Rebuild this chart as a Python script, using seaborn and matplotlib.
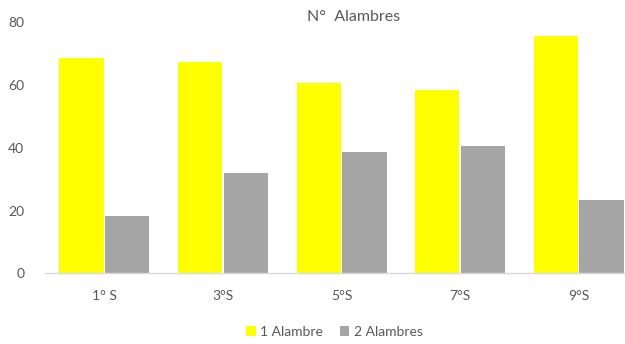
import pandas as pd
import numpy as np
import matplotlib
matplotlib.use("Agg")
import matplotlib.pyplot as plt
import seaborn as sns

secciones = ["1° S", "3°S", "5°S", "7°S", "9°S"]
un_alambre = [68.7, 67.4, 60.6, 58.4, 75.5]
dos_alambres = [18.3, 31.9, 38.8, 40.5, 23.5]
series = ["1 Alambre", "2 Alambres"]
colores = ["#FFFF00", "#A5A5A5"]
yticks = [0, 20, 40, 60, 80]

data = pd.DataFrame({
    "Seccion": secciones * 2,
    "Serie": [series[0]] * 5 + [series[1]] * 5,
    "Valor": un_alambre + dos_alambres,
})

sns.set_style("white")
plt.rcParams["font.family"] = ["Lato", "DejaVu Sans"]

fig = plt.figure(figsize=(6.25, 3.44), dpi=100)
ax = fig.add_axes([0.072, 0.205, 0.928, 0.731])

sns.barplot(data=data, x="Seccion", y="Valor", hue="Serie", palette=colores,
            width=0.77, gap=0.03, ax=ax, legend=True, saturation=1,
            linewidth=0)

ax.set_xlim(-0.5, 4.39)
ax.set_ylim(0, 80)
ax.set_yticks(yticks)
ax.set_xlabel("")
ax.set_ylabel("")
for s in ["top", "right", "left"]:
    ax.spines[s].set_visible(False)
ax.spines["bottom"].set_color("#D9D9D9")
ax.spines["bottom"].set_linewidth(1)
ax.tick_params(axis="y", length=0, pad=15, labelsize=10, labelcolor="#595959")
ax.tick_params(axis="x", length=0, pad=12, labelsize=10, labelcolor="#595959")

fig.text(0.566, 0.95, "N°  Alambres", ha="center", va="center",
         fontsize=11.5, color="#595959")

handles, labels = ax.get_legend_handles_labels()
ax.legend_.remove()
fig.legend(handles, labels, loc="center", bbox_to_anchor=(0.535, 0.035),
           ncol=2, frameon=False, fontsize=10, handlelength=0.7,
           handleheight=0.7, handletextpad=0.3, columnspacing=1.2,
           labelcolor="#595959")

fig.savefig("out.png", dpi=100)
